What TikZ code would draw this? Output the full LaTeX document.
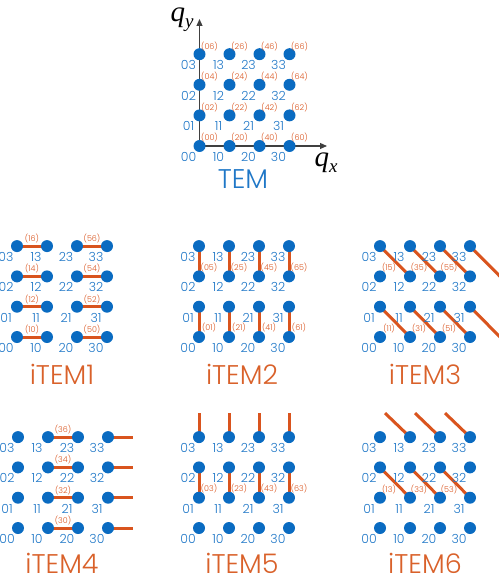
\documentclass[tikz,border=0pt]{standalone}
\usepackage{fontspec}
\setmainfont{Poppins Light}
\newfontfamily\qfont{Liberation Serif}
\usetikzlibrary{arrows.meta,calc,backgrounds}
\definecolor{cBlue}{HTML}{0A6BC1}
\definecolor{cTxt}{HTML}{1F77C7}
\definecolor{cOr}{HTML}{D9541E}
\definecolor{cTitle}{HTML}{D9612A}
\tikzset{
 dot/.style={circle, fill=cBlue, inner sep=0pt, minimum size=12pt},
 idx/.style={text=cTxt, font=\fontsize{12.5}{12.5}\selectfont, inner sep=0pt},
 olab/.style={text=cOr, font=\fontsize{8}{8}\selectfont, inner sep=0pt},
 barline/.style={draw=cOr, line width=3pt},
 axisline/.style={draw=black!75, line width=1.1pt, -{Triangle[length=7pt,width=6pt]}},
 title/.style={font=\fontsize{27}{27}\selectfont, inner sep=0pt, anchor=base},
 qlab/.style={font=\qfont\itshape\fontsize{29}{29}\selectfont, inner sep=0pt, anchor=base},
}
\newcommand\mkgrid[4]{%
 \foreach \i in {0,...,3}{\foreach \j in {0,...,3}{%
   \node[dot] (#1\i\j) at ({#2+30*\i},{#3-#4*\j}) {};
   \node[idx] (#1l\i\j) at ({#2+30*\i-11},{#3-#4*\j+11}) {\i\j};
 }}}
\begin{document}
\begin{tikzpicture}[x=1pt,y=-1pt]
\useasboundingbox (0,0) rectangle (498,580);
% ---- TEM ----
\mkgrid{T}{199.5}{146}{30.6}
\coordinate (yEnd) at (199.5,19);
\coordinate (xEnd) at (327,146);
\begin{scope}[on background layer]
\draw[axisline] (T00.center) -- (yEnd);
\draw[axisline] (T00.center) -- (xEnd);
\end{scope}
\node[qlab] (qy) at (182,22) {q\raisebox{-6pt}{\fontsize{19}{19}\selectfont y}};
\node[qlab] (qx) at (326,166) {q\raisebox{-6pt}{\fontsize{19}{19}\selectfont x}};
\foreach \i in {0,...,3}{\foreach \j in {0,...,3}{%
 \pgfmathtruncatemacro\a{2*\i}\pgfmathtruncatemacro\b{2*\j}
 \node[olab] (To\i\j) at ($(T\i\j)+(10,-8)$) {(\a\b)};}}
\node[title, text=cTxt] (tTEM) at (243,188) {TEM};
% ---- grids ----
\mkgrid{A}{17}{337}{30.3}
\mkgrid{B}{199}{337}{30.3}
\mkgrid{C}{380}{337}{30.3}
\mkgrid{D}{18}{528}{30.3}
\mkgrid{E}{199}{528}{30.3}
\mkgrid{F}{380}{528}{30.3}
\begin{scope}[on background layer]
% iTEM1
\foreach \j in {0,...,3}{\pgfmathtruncatemacro\b{2*\j}
 \draw[barline] (A0\j.center) -- (A1\j.center) node[olab, midway, yshift=7.5pt] (Aa\j) {(1\b)};
 \draw[barline] (A2\j.center) -- (A3\j.center) node[olab, midway, yshift=7.5pt] (Ab\j) {(5\b)};}
% iTEM2
\foreach \i in {0,...,3}{\pgfmathtruncatemacro\a{2*\i}
 \draw[barline] (B\i0.center) -- (B\i1.center) node[olab, midway, xshift=10pt, yshift=-6pt] (Ba\i) {(\a1)};
 \draw[barline] (B\i2.center) -- (B\i3.center) node[olab, midway, xshift=10pt, yshift=-6pt] (Bb\i) {(\a5)};}
% iTEM3
\foreach \i in {0,1,2}{\pgfmathtruncatemacro\n{\i+1}\pgfmathtruncatemacro\a{2*\i+1}
 \draw[barline] (C\i3.center) -- (C\n2.center) node[olab, midway, xshift=-6pt, yshift=-6.5pt] (Ca\i) {(\a5)};
 \draw[barline] (C\i1.center) -- (C\n0.center) node[olab, midway, xshift=-6pt, yshift=-6.5pt] (Cb\i) {(\a1)};}
\coordinate (Cs3) at ($(C33)+(30,30.3)$);
\coordinate (Cs1) at ($(C31)+(30,30.3)$);
\draw[barline] (C33.center) -- (Cs3);
\draw[barline] (C31.center) -- (Cs1);
% iTEM4
\foreach \j in {0,...,3}{\pgfmathtruncatemacro\b{2*\j}
 \draw[barline] (D1\j.center) -- (D2\j.center) node[olab, midway, yshift=7.5pt] (Da\j) {(3\b)};
 \coordinate (Ds\j) at ($(D3\j)+(25,0)$);
 \draw[barline] (D3\j.center) -- (Ds\j);}
% iTEM5
\foreach \i in {0,...,3}{\pgfmathtruncatemacro\a{2*\i}
 \draw[barline] (E\i1.center) -- (E\i2.center) node[olab, midway, xshift=10pt, yshift=-6pt] (Ea\i) {(\a3)};
 \coordinate (Es\i) at ($(E\i3)+(0,-24)$);
 \draw[barline] (E\i3.center) -- (Es\i);}
% iTEM6
\foreach \i in {0,1,2}{\pgfmathtruncatemacro\n{\i+1}\pgfmathtruncatemacro\a{2*\i+1}
 \draw[barline] (F\i2.center) -- (F\n1.center) node[olab, midway, xshift=-6pt, yshift=-6.5pt] (Fa\i) {(\a3)};}
\foreach \i in {1,2,3}{
 \coordinate (Fs\i) at ($(F\i3)+(-25,-24)$);
 \draw[barline] (Fs\i) -- (F\i3.center);}
\end{scope}
% titles
\node[title, text=cTitle] (t1) at (62,384) {iTEM1};
\node[title, text=cTitle] (t2) at (242,384) {iTEM2};
\node[title, text=cTitle] (t3) at (425,384) {iTEM3};
\node[title, text=cTitle] (t4) at (62,573) {iTEM4};
\node[title, text=cTitle] (t5) at (242,573) {iTEM5};
\node[title, text=cTitle] (t6) at (425,573) {iTEM6};
\end{tikzpicture}
\end{document}
